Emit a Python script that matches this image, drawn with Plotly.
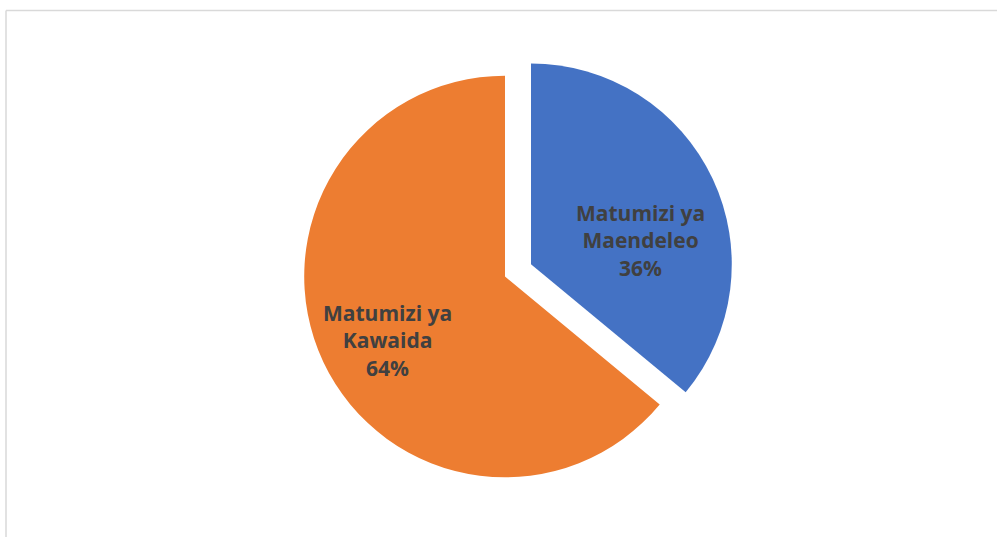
import plotly.graph_objects as go

labels = ["Matumizi ya Maendeleo", "Matumizi ya Kawaida"]
label_lines = ["Matumizi ya<br>Maendeleo", "Matumizi ya<br>Kawaida"]
values = [36, 64]
colors = ["#4472C4", "#ED7D31"]
pulls = [0.143, 0]

W, H = 997, 537
ml, mr, mt, mb = 50, 37, 47, 31
pw, ph = W - ml - mr, H - mt - mb

fig = go.Figure(go.Pie(
    labels=labels,
    values=values,
    textinfo="none",
    marker=dict(colors=colors, line=dict(width=0)),
    pull=pulls,
    sort=False,
    direction="clockwise",
    rotation=0,
    showlegend=False,
    hoverinfo="label+percent",
))

# data labels (Excel-style placement, offsets in pixels from the pie centre)
label_offsets_px = [(135, -36.5), (-118, 63.5)]
total = sum(values)
for txt, v, (dx, dy) in zip(label_lines, values, label_offsets_px):
    fig.add_annotation(
        xref="paper", yref="paper",
        x=0.5 + dx / pw, y=0.5 - dy / ph,
        xanchor="center", yanchor="middle",
        text=f"{txt}<br>{round(100 * v / total)}%",
        showarrow=False, align="center",
        font=dict(family="Open Sans", size=21, color="#404040", weight="bold"),
    )

# chart-area border (only top and left edges visible in the crop)
x0 = (6 - ml) / pw
y0 = 1 + (mt - 10.5) / ph
fig.add_shape(type="line", xref="paper", yref="paper",
              x0=x0, x1=(W + 5 - ml) / pw, y0=y0, y1=y0,
              line=dict(color="#D9D9D9", width=1.5))
fig.add_shape(type="line", xref="paper", yref="paper",
              x0=x0, x1=x0, y0=y0, y1=-(mb + 5) / ph,
              line=dict(color="#D9D9D9", width=1.5))

fig.update_layout(
    width=W, height=H,
    margin=dict(l=ml, r=mr, t=mt, b=mb),
    paper_bgcolor="white",
    plot_bgcolor="white",
)
fig.write_html("out.html", config={"displayModeBar": False},
               post_script="document.body.style.margin='0';document.body.style.overflow='hidden';")
